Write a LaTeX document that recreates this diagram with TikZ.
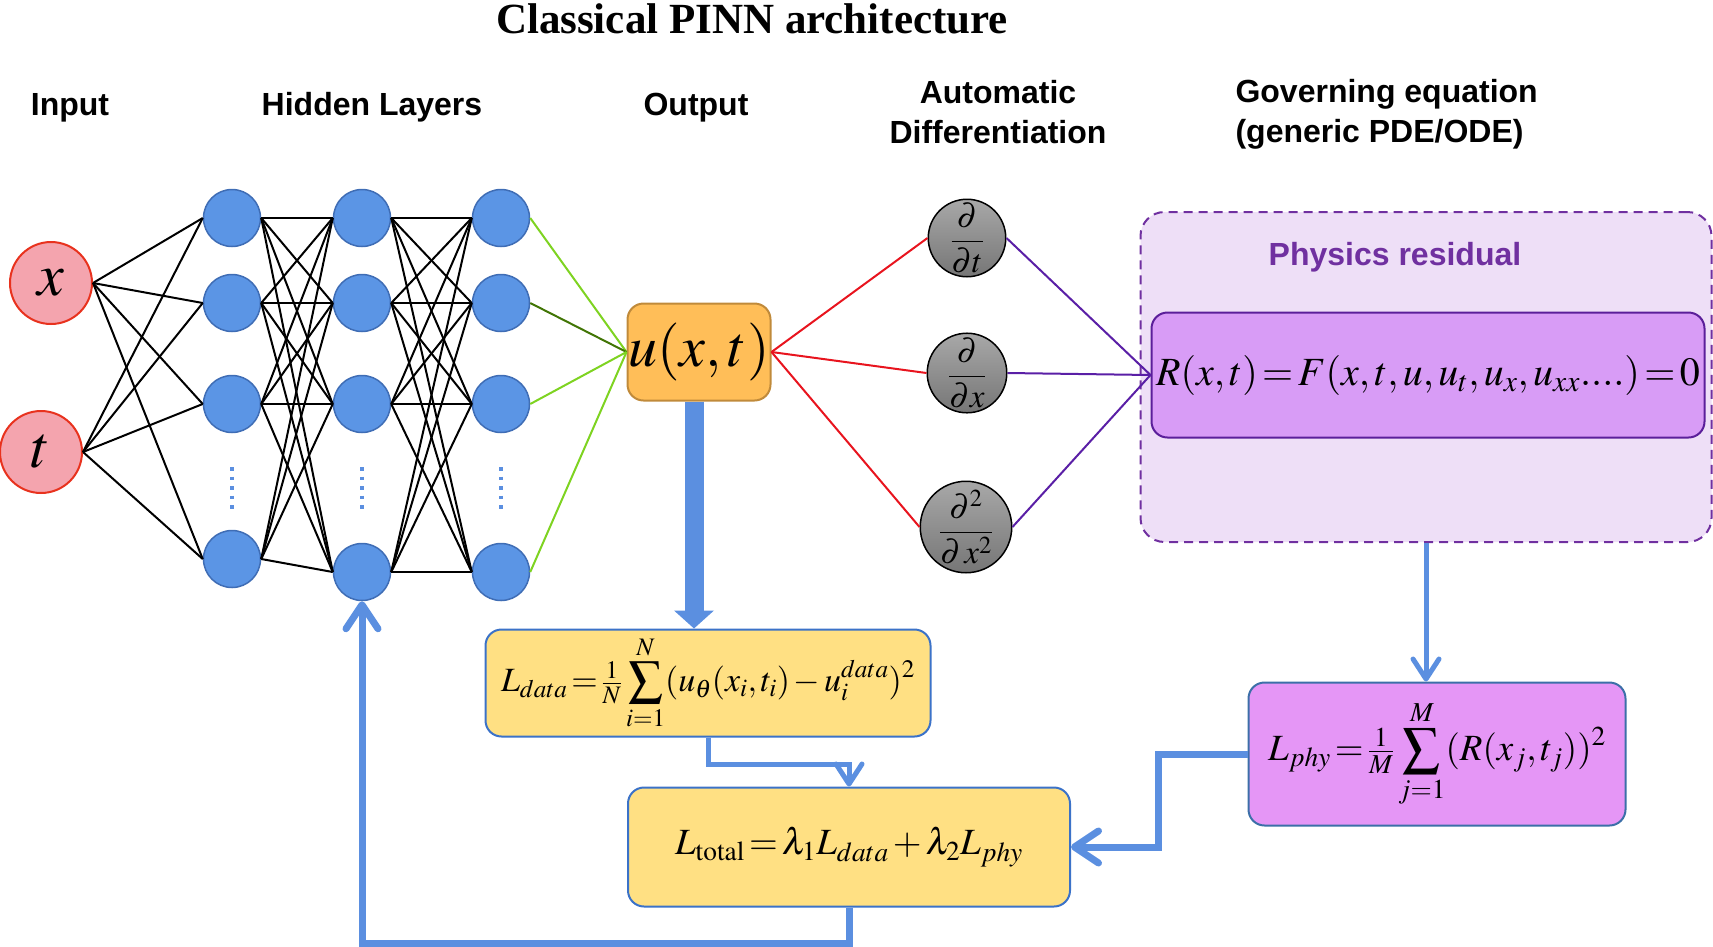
\documentclass[tikz,border=0pt]{standalone}
\usepackage{mathptmx}
\usepackage{amsmath}
\usepackage{fontspec}
\setmainfont{Liberation Serif}
\setsansfont{Liberation Sans}
\usetikzlibrary{arrows.meta,calc}
\definecolor{inpfill}{HTML}{F4A4AE}
\definecolor{inpline}{HTML}{E8321E}
\definecolor{hidfill}{HTML}{5B95E5}
\definecolor{hidline}{HTML}{3F6DB5}
\definecolor{lgreen}{HTML}{7ED321}
\definecolor{dgreen}{HTML}{417505}
\definecolor{outfill}{HTML}{FFBE58}
\definecolor{outline}{HTML}{C08A3A}
\definecolor{redwire}{HTML}{E8141E}
\definecolor{purplewire}{HTML}{5A1FA6}
\definecolor{dtop}{HTML}{A8A8A8}
\definecolor{dbot}{HTML}{767676}
\definecolor{resfill}{HTML}{EEDFF7}
\definecolor{resline}{HTML}{7030A0}
\definecolor{rfill}{HTML}{D89CF6}
\definecolor{rline}{HTML}{5B1F9A}
\definecolor{phyfill}{HTML}{E596F6}
\definecolor{phyline}{HTML}{3C6FA8}
\definecolor{lossfill}{HTML}{FFE083}
\definecolor{lossline}{HTML}{3B72C8}
\definecolor{flowblue}{HTML}{5B8FE0}

\begin{document}
\thickmuskip=2mu plus 1mu
\medmuskip=2mu plus 1mu
\begin{tikzpicture}[x=1pt,y=-1pt,
  neuron/.style={circle, draw=hidline, fill=hidfill, line width=1.5pt, minimum size=57pt, inner sep=0},
  inp/.style={circle, draw=inpline, fill=inpfill, line width=2pt, minimum size=82pt, inner sep=0, font=\fontsize{60}{60}\selectfont},
  wire/.style={draw=black, line width=2pt},
  deriv/.style={circle, draw=black, line width=1.5pt, top color=dtop, bottom color=dbot, minimum size=71pt, inner sep=0, font=\fontsize{33}{33}\selectfont},
  box/.style={rectangle, rounded corners=16pt, line width=2pt, inner sep=0},
  head/.style={font=\sffamily\bfseries\fontsize{32}{40}\selectfont, align=center},
  flow/.style={draw=flowblue, line width=5pt, -{Straight Barb[length=20pt,width=26pt,round]}},
  bigflow/.style={draw=flowblue, line width=7pt, -{Straight Barb[length=24pt,width=32pt,round]}},
  vdots/.style={draw=flowblue, line width=3.5pt, dash pattern=on 3.5pt off 6pt}]
\useasboundingbox (0,0) rectangle (1713,946);
\newcommand{\hlayer}[3]{% layer, x, y of last neuron
  \foreach \yy [count=\k] in {218,303,404,#3}
    \node[neuron] (h#1-\k) at (#2,\yy) {};
  \draw[vdots] (#2,467) -- (#2,512);}

% headings
\node[font=\bfseries\fontsize{43}{48}\selectfont, anchor=base] (title) at (752,33) {Classical PINN architecture};
\node[head, anchor=base] (hin) at (70,115) {Input};
\node[head, anchor=base] (hhid) at (372,115) {Hidden Layers};
\node[head, anchor=base] (hout) at (696,115) {Output};
\node[head] (hauto) at (998,112) {Automatic\\Differentiation};
\node[head, align=left, anchor=west] (hgov) at (1232,114) {Governing equation\\(generic PDE/ODE)};

% network
\node[inp] (x) at (51,283) {$x$};
\node[inp] (t) at (41,452) {$t$};
\hlayer{1}{232}{559}
\hlayer{2}{362}{572}
\hlayer{3}{501}{572}
\node[box, fill=outfill, draw=outline, minimum width=143pt, minimum height=97pt, font=\fontsize{58}{58}\selectfont] (u) at (699,352) {$u(x,t)$};

% automatic differentiation
\node[deriv] (dt) at (967,238) {$\dfrac{\partial}{\partial t}$};
\node[deriv] (dx) at (967,373) {$\dfrac{\partial}{\partial x}$};
\node[deriv] (dxx) at (966,527) {$\dfrac{\partial^2}{\partial\,x^2}$};

% residual
\node[box, rounded corners=24pt, draw=resline, fill=resfill, dash pattern=on 9pt off 6pt, minimum width=571pt, minimum height=330pt] (phys) at (1426,377) {};
\node[font=\sffamily\bfseries\fontsize{32}{38}\selectfont, text=resline] (physlab) at (1395,257) {Physics residual};
\node[box, fill=rfill, draw=rline, minimum width=553pt, minimum height=125pt, font=\fontsize{40}{40}\selectfont] (R) at (1428,375) {$R(x,t)=F(x,t,u,u_t,u_x,u_{xx}....)=0$};

% losses
\node[box, fill=lossfill, draw=lossline, minimum width=445pt, minimum height=107pt, font=\fontsize{34}{34}\selectfont] (ldata) at (708,683) {$L_{data}=\tfrac{1}{N}\displaystyle\sum_{i=1}^{N}(u_\theta(x_i,t_i)-u_i^{data})^2$};
\node[box, fill=lossfill, draw=lossline, minimum width=442pt, minimum height=119pt, font=\fontsize{37}{37}\selectfont] (ltotal) at (849,847) {$L_{\mathrm{total}}=\lambda_1L_{data}+\lambda_2L_{phy}$};
\node[box, fill=phyfill, draw=phyline, minimum width=377pt, minimum height=143pt, font=\fontsize{37}{37}\selectfont] (lphy) at (1437,754) {$L_{phy}=\tfrac{1}{M}\displaystyle\sum_{j=1}^{M}(R(x_j,t_j))^2$};

% connections
\foreach \i in {1,...,4} {
  \draw[wire] (x.east) -- (h1-\i.west);
  \draw[wire] (t.east) -- (h1-\i.west);}
\foreach \a/\b in {1/2,2/3}
  \foreach \i in {1,...,4}
    \foreach \j in {1,...,4}
      \draw[wire] (h\a-\i.east) -- (h\b-\j.west);
\foreach \i/\c in {1/lgreen,2/dgreen,3/lgreen,4/lgreen}
  \draw[\c, line width=2pt] (h3-\i.east) -- (u.west);
\foreach \d in {dt,dx,dxx} {
  \draw[redwire, line width=2pt] (u.east) -- (\d.west);
  \draw[purplewire, line width=2pt] (\d.east) -- (R.west);}

% losses flow
\draw[draw=flowblue, line width=19pt, -{Triangle[length=18pt,width=40pt,line width=0pt]}] ([xshift=-5pt]u.south) -- ([xshift=-5pt]u.south |- ldata.north);
\draw[flow] (ldata.south) -- ++(0,27) -| (ltotal.north);
\draw[flow] (phys.south) -- (phys.south |- lphy.north);
\draw[bigflow] (lphy.west) -- ++(-89,0) |- (ltotal.east);
\draw[bigflow] (ltotal.south) -- ++(0,36) -| (h2-4.south);
\end{tikzpicture}
\end{document}
